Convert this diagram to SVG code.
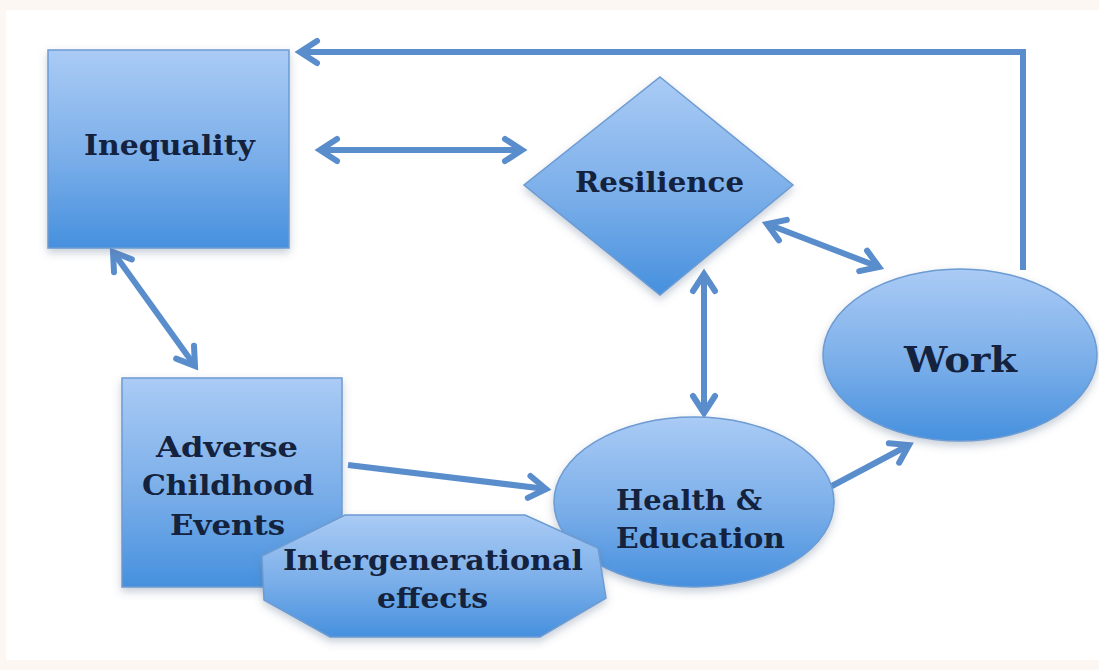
<svg xmlns="http://www.w3.org/2000/svg" width="1099" height="670" viewBox="0 0 1099 670">
  <defs>
    <linearGradient id="blueFill" x1="0" y1="0" x2="0" y2="1">
      <stop offset="0" stop-color="#aacbf5"/>
      <stop offset="0.55" stop-color="#7aaee9"/>
      <stop offset="1" stop-color="#4690de"/>
    </linearGradient>
    <filter id="shadow" x="-10%" y="-10%" width="125%" height="130%">
      <feDropShadow dx="0" dy="4" stdDeviation="4" flood-color="#5a6f8a" flood-opacity="0.35"/>
    </filter>
    <marker id="head" viewBox="0 0 30 30" refX="24" refY="15" markerWidth="30" markerHeight="30" markerUnits="userSpaceOnUse" orient="auto-start-reverse">
      <path d="M7,4 L24,15 L7,26" fill="none" stroke="#5a8dcc" stroke-width="6" stroke-linecap="round" stroke-linejoin="miter"/>
    </marker>
  </defs>
  <style>
    .shape { fill: url(#blueFill); stroke: #6d9bd2; stroke-width: 1.5; filter: url(#shadow); }
    .lbl { font-family: "DejaVu Serif", "Liberation Serif", serif; font-weight: bold; font-size: 27px; fill: #14223d; }
    .big { font-size: 36px; }
    .conn { fill: none; stroke: #5a8dcc; stroke-width: 6; }
  </style>

  <rect x="0" y="0" width="1099" height="670" fill="#fcf7f2"/>
  <rect x="6" y="10" width="1093" height="650" fill="#ffffff"/>

  <g id="connectors">
    <path class="conn" d="M1023,270 L1023,52 L300,52" marker-end="url(#head)"/>
    <line class="conn" x1="320" y1="150" x2="522" y2="150" marker-start="url(#head)" marker-end="url(#head)"/>
    <line class="conn" x1="113" y1="252" x2="195" y2="366" marker-start="url(#head)" marker-end="url(#head)"/>
    <line class="conn" x1="348" y1="465" x2="546" y2="489" marker-end="url(#head)"/>
    <line class="conn" x1="704" y1="274" x2="704" y2="413" marker-start="url(#head)" marker-end="url(#head)"/>
    <line class="conn" x1="767" y1="224" x2="879" y2="267" marker-start="url(#head)" marker-end="url(#head)"/>
    <line class="conn" x1="830" y1="487" x2="909" y2="445" marker-end="url(#head)"/>
  </g>

  <g id="inequality">
    <rect class="shape" x="48" y="50" width="241" height="198"/>
    <text class="lbl" x="169.5" y="155" text-anchor="middle" textLength="171" lengthAdjust="spacingAndGlyphs">Inequality</text>
  </g>

  <g id="resilience">
    <polygon class="shape" points="660,77 793,185 660,295 524,185"/>
    <text class="lbl" x="659.5" y="192" text-anchor="middle" textLength="169" lengthAdjust="spacingAndGlyphs">Resilience</text>
  </g>

  <g id="work">
    <ellipse class="shape" cx="960" cy="355" rx="137" ry="86"/>
    <text class="lbl big" x="960.5" y="372" text-anchor="middle" textLength="113" lengthAdjust="spacingAndGlyphs">Work</text>
  </g>

  <g id="adverse">
    <rect class="shape" x="122" y="378" width="220" height="209"/>
    <text class="lbl" x="227" y="457" text-anchor="middle" textLength="142" lengthAdjust="spacingAndGlyphs">Adverse</text>
    <text class="lbl" x="228" y="495" text-anchor="middle" textLength="172" lengthAdjust="spacingAndGlyphs">Childhood</text>
    <text class="lbl" x="227.5" y="535" text-anchor="middle" textLength="115" lengthAdjust="spacingAndGlyphs">Events</text>
  </g>

  <g id="health-education">
    <ellipse class="shape" cx="694" cy="502" rx="140" ry="85"/>
    <text class="lbl" x="616" y="510" textLength="146" lengthAdjust="spacingAndGlyphs">Health &amp;</text>
    <text class="lbl" x="616" y="548" textLength="169" lengthAdjust="spacingAndGlyphs">Education</text>
  </g>

  <g id="intergenerational">
    <polygon class="shape" points="345,515 525,515 598,548 606,598 540,637 330,637 264,600 262,556"/>
    <text class="lbl" x="433" y="570" text-anchor="middle" textLength="300" lengthAdjust="spacingAndGlyphs">Intergenerational</text>
    <text class="lbl" x="432.5" y="608" text-anchor="middle" textLength="111" lengthAdjust="spacingAndGlyphs">effects</text>
  </g>
</svg>
